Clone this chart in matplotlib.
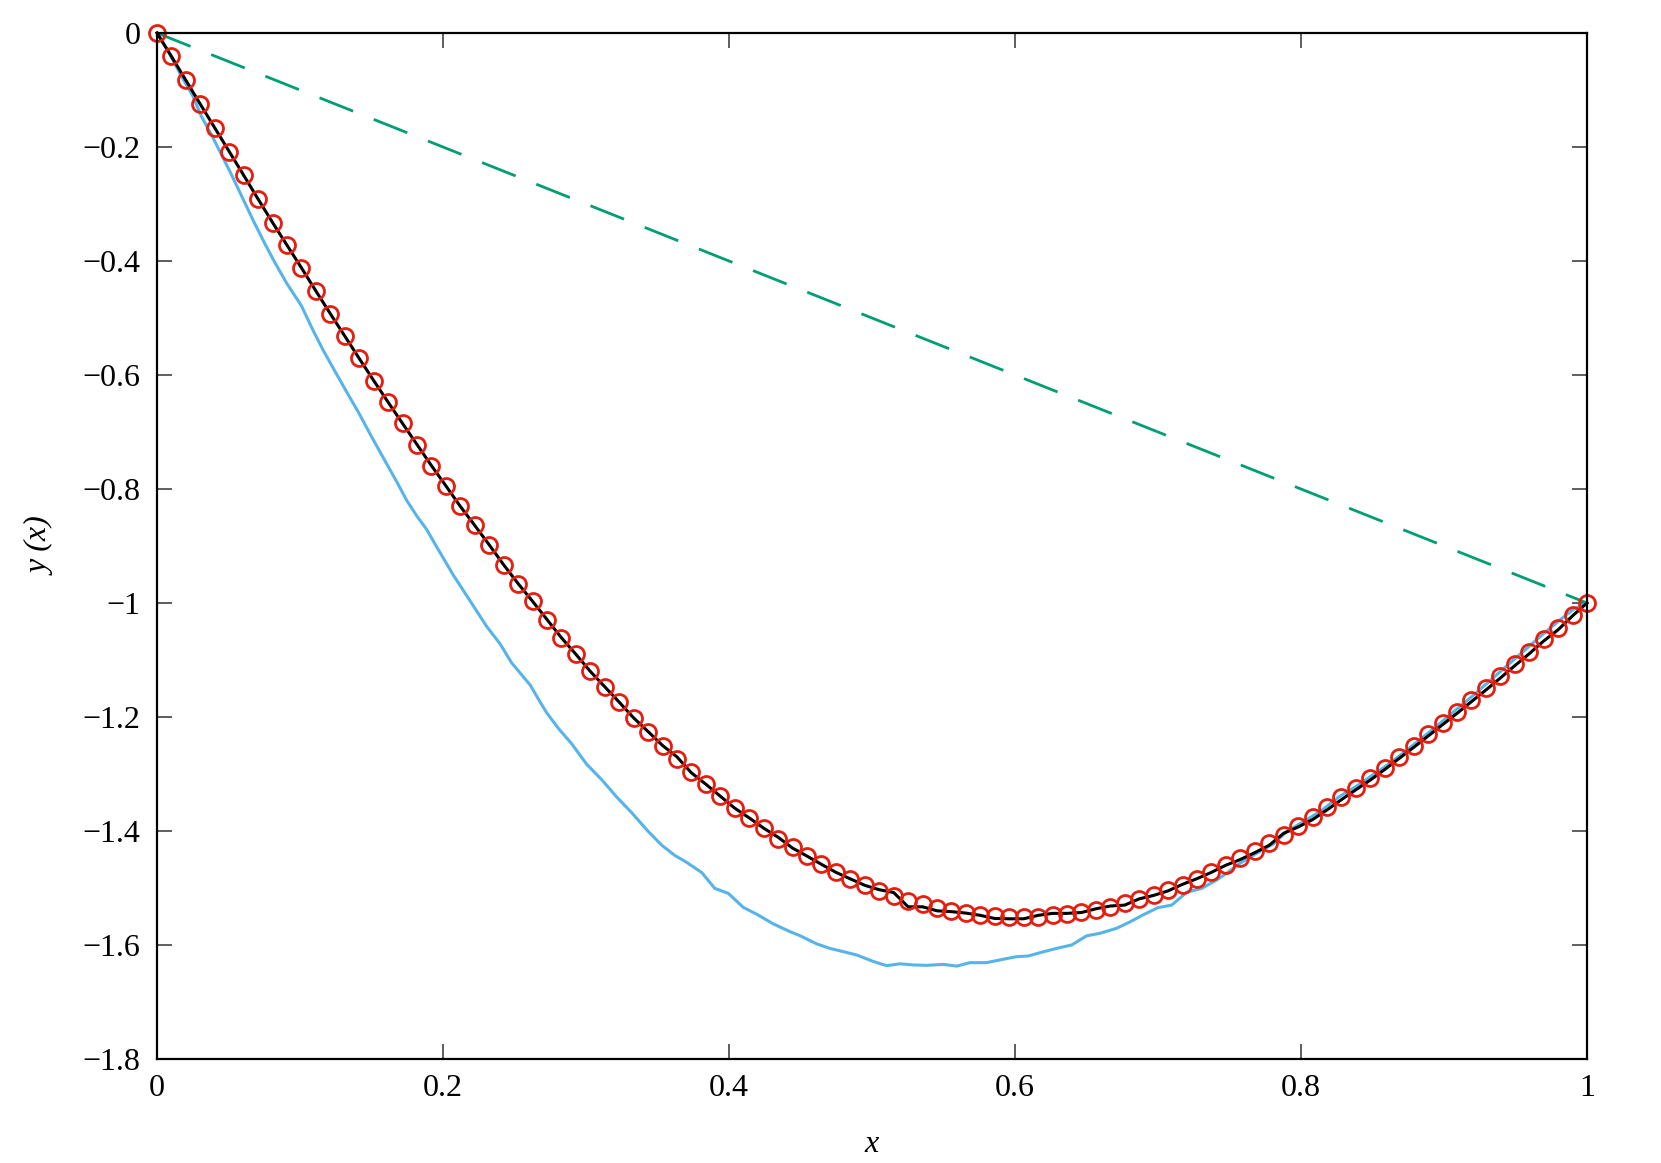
import numpy as np
import matplotlib
matplotlib.use("Agg")
import matplotlib.pyplot as plt

# ---- data ----
n_points = 100  # markers at x = k/99
red_y = [0.0, -0.041, -0.083, -0.125, -0.1665, -0.208, -0.2496, -0.2914, -0.3325, -0.3723,
         -0.412, -0.4526, -0.4925, -0.5317, -0.571, -0.6097, -0.6477, -0.685, -0.722, -0.759,
         -0.7945, -0.8305, -0.864, -0.898, -0.933, -0.966, -0.997, -1.029, -1.061, -1.090,
         -1.120, -1.147, -1.174, -1.2016, -1.2256, -1.250, -1.274, -1.296, -1.318, -1.339,
         -1.360, -1.377, -1.395, -1.4135, -1.4286, -1.444, -1.4585, -1.4725, -1.484, -1.4953,
         -1.5047, -1.514, -1.5228, -1.5286, -1.535, -1.540, -1.5439, -1.5468, -1.5485, -1.5503,
         -1.5515, -1.550, -1.5472, -1.5456, -1.5427, -1.538, -1.533, -1.527, -1.520, -1.513,
         -1.5035, -1.4947, -1.484, -1.4725, -1.4596, -1.448, -1.435, -1.4205, -1.407, -1.391,
         -1.375, -1.3575, -1.341, -1.3246, -1.3076, -1.289, -1.2696, -1.2503, -1.2304, -1.2105,
         -1.1906, -1.170, -1.1497, -1.1286, -1.107, -1.086, -1.0637, -1.0439, -1.0205, -1.000]

black_y = [0.0, -0.041, -0.083, -0.125, -0.1665, -0.208, -0.2496, -0.2914, -0.3325, -0.3723,
           -0.412, -0.4526, -0.4925, -0.5317, -0.571, -0.6097, -0.6477, -0.685, -0.722, -0.759,
           -0.7945, -0.8305, -0.864, -0.898, -0.933, -0.966, -0.997, -1.029, -1.061, -1.090,
           -1.120, -1.147, -1.174, -1.2016, -1.2256, -1.250, -1.270, -1.298, -1.318, -1.339,
           -1.360, -1.377, -1.395, -1.4110, -1.4300, -1.444, -1.4585, -1.4725, -1.484, -1.4953,
           -1.5030, -1.508, -1.5330, -1.5330, -1.540, -1.5415, -1.5440, -1.5480, -1.5535, -1.5540,
           -1.5540, -1.548, -1.5445, -1.5445, -1.5430, -1.5365, -1.5316, -1.530, -1.519, -1.513,
           -1.5050, -1.4935, -1.4836, -1.4725, -1.4600, -1.450, -1.438, -1.4250, -1.404, -1.393,
           -1.380, -1.3630, -1.345, -1.3276, -1.3106, -1.292, -1.2726, -1.2533, -1.2334, -1.2135,
           -1.1936, -1.173, -1.1527, -1.1316, -1.110, -1.089, -1.0667, -1.0469, -1.0225, -1.000]

blue_x = [0.0, 0.009, 0.018, 0.025, 0.031, 0.039, 0.045, 0.051, 0.059, 0.067,
          0.0755, 0.0825, 0.0907, 0.101, 0.109, 0.1163, 0.123, 0.1327, 0.141, 0.150,
          0.1594, 0.1676, 0.1746, 0.1816, 0.1886, 0.1956, 0.2072, 0.2212, 0.2305, 0.240,
          0.248, 0.254, 0.261, 0.268, 0.2725, 0.2806, 0.290, 0.3005, 0.311, 0.3215,
          0.332, 0.3436, 0.353, 0.3622, 0.3704, 0.381, 0.390, 0.3996, 0.410, 0.4194,
          0.431, 0.4427, 0.4497, 0.4613, 0.4706, 0.480, 0.4893, 0.501, 0.5103, 0.5196,
          0.529, 0.538, 0.550, 0.5592, 0.5685, 0.580, 0.5918, 0.601, 0.6093, 0.6175,
          0.629, 0.6396, 0.650, 0.6594, 0.671, 0.680, 0.6897, 0.700, 0.7096, 0.720,
          0.7306, 0.741, 0.748, 0.7573, 0.769, 0.7806, 0.790, 0.8016, 0.8133, 0.8266,
          0.8384, 0.85, 0.86, 0.87, 0.88, 0.89, 0.90, 0.91, 0.92, 0.93,
          0.94, 0.95, 0.96, 0.97, 0.98, 0.99, 1.0]
blue_y = [0.0, -0.0375, -0.080, -0.110, -0.146, -0.183, -0.213, -0.243, -0.285, -0.3275,
          -0.370, -0.403, -0.439, -0.4786, -0.521, -0.557, -0.587, -0.630, -0.666, -0.708,
          -0.7505, -0.787, -0.820, -0.847, -0.871, -0.9016, -0.951, -1.005, -1.041, -1.072,
          -1.105, -1.123, -1.144, -1.174, -1.1925, -1.2197, -1.247, -1.283, -1.310, -1.3405,
          -1.368, -1.401, -1.425, -1.443, -1.455, -1.473, -1.5005, -1.5096, -1.534, -1.546,
          -1.563, -1.5766, -1.5837, -1.598, -1.606, -1.6117, -1.6175, -1.629, -1.6363, -1.633,
          -1.635, -1.6357, -1.634, -1.637, -1.631, -1.631, -1.625, -1.6205, -1.6193, -1.6135,
          -1.606, -1.600, -1.584, -1.5795, -1.5707, -1.560, -1.547, -1.5345, -1.530, -1.5076,
          -1.5006, -1.486, -1.474, -1.4567, -1.439, -1.4228, -1.401, -1.3836, -1.366, -1.340,
          -1.322, -1.302, -1.285, -1.266, -1.246, -1.226, -1.205, -1.184, -1.163, -1.141,
          -1.119, -1.097, -1.075, -1.053, -1.032, -1.012, -1.0]

green_x = [0.0, 1.0]
green_y = [0.0, -1.0]

x_ticks = [0, 0.2, 0.4, 0.6, 0.8, 1]
x_ticklabels = ["0", "0.2", "0.4", "0.6", "0.8", "1"]
y_ticks = [0, -0.2, -0.4, -0.6, -0.8, -1, -1.2, -1.4, -1.6, -1.8]
y_ticklabels = ["0", "\u22120.2", "\u22120.4", "\u22120.6", "\u22120.8", "\u22121",
                "\u22121.2", "\u22121.4", "\u22121.6", "\u22121.8"]

# ---- figure ----
plt.rcParams["font.family"] = ["Liberation Serif", "DejaVu Serif"]
plt.rcParams["mathtext.fontset"] = "stix"

W, H = 1661, 1163
fig = plt.figure(figsize=(W / 100, H / 100), dpi=100)
ax = fig.add_axes([157 / W, 1 - 1059 / H, (1587 - 157) / W, (1059 - 33) / H])

xg = np.linspace(0, 1, n_points)

ax.plot(green_x, green_y, color="#009e73", lw=2.0, dashes=(13, 8), zorder=2, clip_on=False)
ax.plot(blue_x, blue_y, color="#56b4e9", lw=2.2, zorder=3, clip_on=False)
ax.plot(xg, black_y, color="black", lw=2.2, zorder=4, clip_on=False)
ax.plot(xg, red_y, linestyle="none", marker="o", markersize=11.5, markerfacecolor="none",
        markeredgecolor="#e51e10", markeredgewidth=2.0, zorder=5, clip_on=False)

ax.set_xlim(0, 1)
ax.set_ylim(-1.8, 0)
ax.set_xticks(x_ticks)
ax.set_xticklabels(x_ticklabels)
ax.set_yticks(y_ticks)
ax.set_yticklabels(y_ticklabels)

ax.tick_params(axis="both", which="major", direction="in", length=11, width=1.1,
               color="#333333", top=True, right=True, labelsize=23)
ax.tick_params(axis="y", pad=12)
ax.tick_params(axis="x", pad=11)

for sp in ax.spines.values():
    sp.set_linewidth(1.6)
    sp.set_zorder(6)

ax.set_xlabel("x", fontsize=23, style="italic", labelpad=19)
ax.set_ylabel("y (x)", fontsize=23, style="italic", labelpad=19)

fig.savefig("out.png", dpi=100)
